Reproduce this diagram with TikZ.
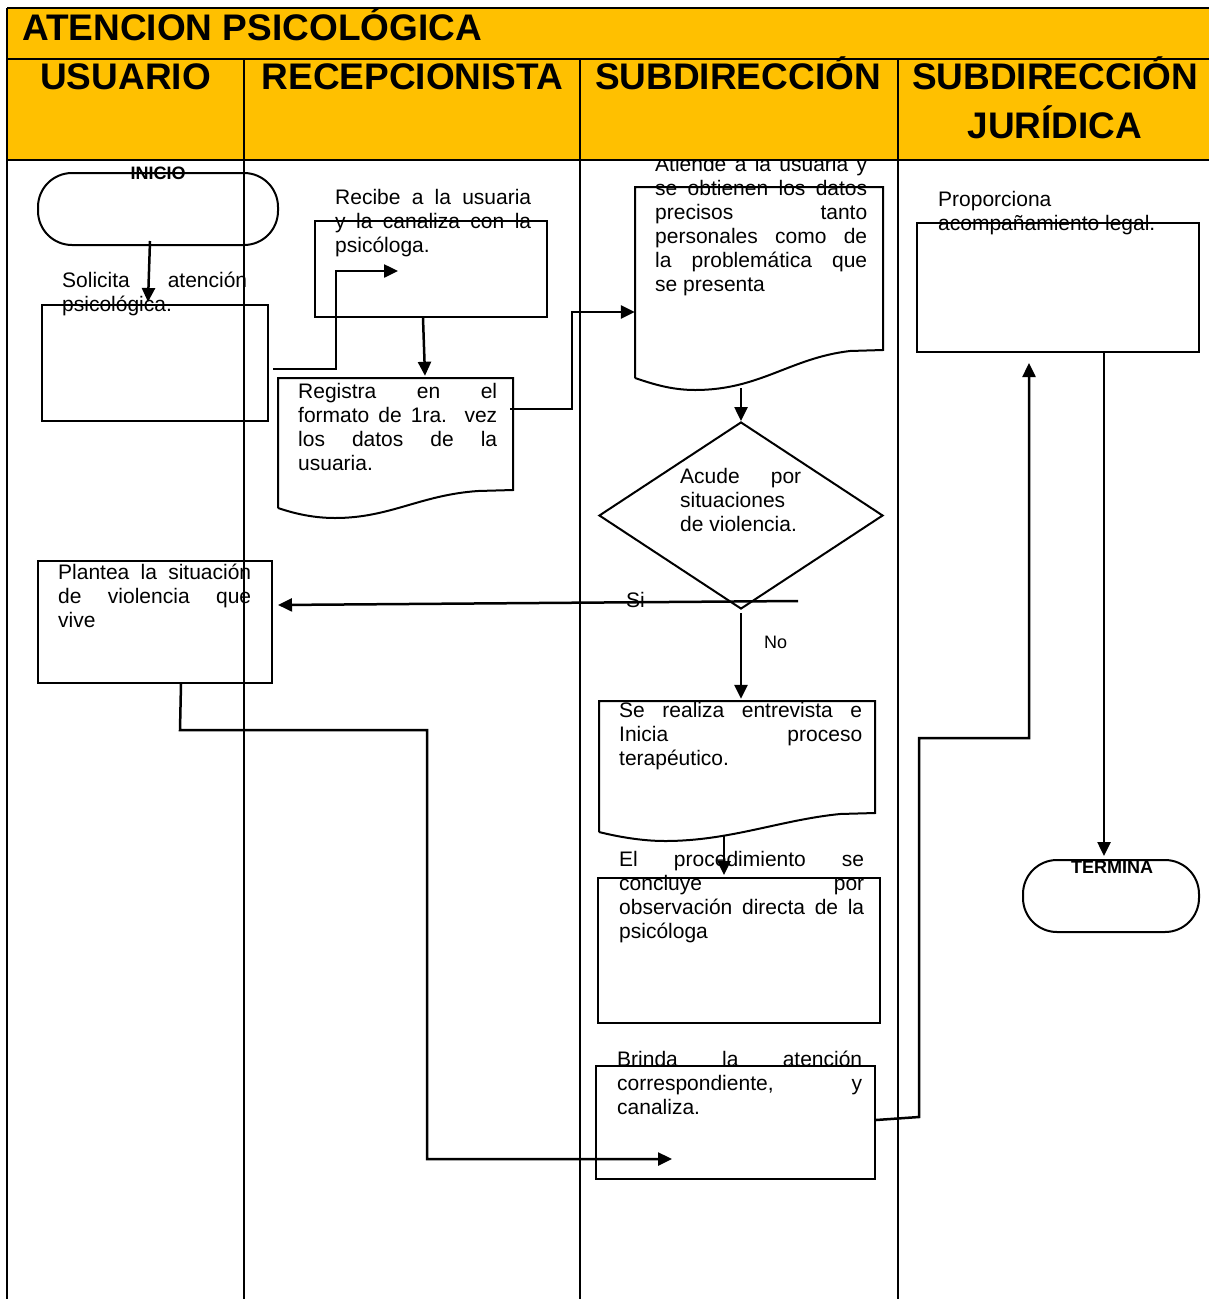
\documentclass[tikz,border=0pt]{standalone}
\usepackage{fontspec}
\setmainfont{Liberation Sans}
\usetikzlibrary{arrows.meta,shapes.geometric,calc}
\definecolor{hdr}{HTML}{FFC000}
\newcommand{\JL}[2]{\strut\makebox[#1][s]{#2}}
\begin{document}
\begin{tikzpicture}[x=1pt,y=-1pt,
  lane/.style={line width=1.3pt, black},
  box/.style={draw, line width=2pt, inner sep=0pt, rectangle},
  ghost/.style={inner sep=0pt, rectangle},
  term/.style={draw, line width=2pt, inner sep=0pt, rounded corners=34pt},
  arr/.style={line width=2.5pt, -{Triangle[length=14pt,width=13pt]}},
  doc/.style={line width=2pt},
  txt/.style={anchor=north west, inner sep=0pt, align=left, font=\fontsize{21}{24}\selectfont},
  hd/.style={inner sep=0pt, font=\fontsize{37}{40}\selectfont\bfseries},
  lbl/.style={inner sep=0pt, font=\fontsize{18}{20}\selectfont\bfseries}]
\useasboundingbox (0,0) rectangle (1209,1299);
\fill[white] (0,0) rectangle (1209,1299);
% lanes
\draw[lane] (7,8) -- (7,1299);
\draw[lane] (244,59) -- (244,1299);
\draw[lane] (580,59) -- (580,1299);
\draw[lane] (898,59) -- (898,1299);

% texts
\node[txt] (tsol) at (62,270.2) {\JL{185pt}{Solicita atención}\\\strut psicológica.};
\node[txt] (trec) at (335,187.2) {\JL{196pt}{Recibe a la usuaria}\\\JL{196pt}{y la canaliza con la}\\\strut psicóloga.};
\node[txt] (treg) at (298,381.2) {\JL{199pt}{Registra en el}\\\JL{199pt}{formato de 1ra. vez}\\\JL{199pt}{los datos de la}\\\strut usuaria.};
\node[txt] (tati) at (655,154.2) {\JL{212pt}{Atiende a la usuaria y}\\\JL{212pt}{se obtienen los datos}\\\JL{212pt}{precisos tanto}\\\JL{212pt}{personales como de}\\\JL{212pt}{la problemática que}\\\strut se presenta};
\node[txt] (tacu) at (680,466.2) {\JL{121pt}{Acude por}\\\strut situaciones\\\strut de violencia.};
\node[txt] (tpla) at (58,562.2) {\JL{193pt}{Plantea la situación}\\\JL{193pt}{de violencia que}\\\strut vive};
\node[txt] (tser) at (619,700.2) {\JL{243pt}{Se realiza entrevista e}\\\JL{243pt}{Inicia proceso}\\\strut terapéutico.};
\node[txt] (tpro) at (619,849.2) {\JL{245pt}{El procedimiento se}\\\JL{245pt}{concluye por}\\\JL{245pt}{observación directa de la}\\\strut psicóloga};
\node[txt] (tbri) at (617,1049.2) {\JL{245pt}{Brinda la atención}\\\JL{245pt}{correspondiente, y}\\\strut canaliza.};
\node[txt] (tprop) at (938,189.2) {\strut Proporciona\\\strut acompañamiento legal.};
\node[inner sep=0pt, anchor=base west, font=\fontsize{21}{24}\selectfont] (tsi) at (626,607) {Si};
\node[inner sep=0pt, anchor=base west, font=\fontsize{18}{20}\selectfont] (tno) at (764,648) {No};

% shapes
\node[term, minimum width=240pt, minimum height=72pt] (inicio) at (158,209) {};
\node[lbl, anchor=base] (tini) at (158,179) {INICIO};
\node[box, minimum width=226pt, minimum height=116pt] (solicita) at (155,363) {};
\node[box, minimum width=232pt, minimum height=96pt] (recibe) at (431,269) {};
\node[ghost, minimum width=235pt, minimum height=112pt] (registra) at (395.5,434) {};
\draw[doc] (278,508) -- (278,378) -- (513,378) -- (513,490) -- (478,491)
  .. controls (420,495) and (390,518) .. (335,518)
  .. controls (310,518) and (290,512) .. (278,508);
\node[ghost, minimum width=248pt, minimum height=163pt] (atiende) at (759,268.5) {};
\draw[doc] (635,378) -- (635,187) -- (883,187) -- (883,350) -- (850,351)
  .. controls (790,358) and (760,390) .. (695,390)
  .. controls (670,390) and (650,383) .. (635,378);
\node[draw, diamond, line width=2pt, inner sep=0pt, minimum width=284pt, minimum height=187pt] (dia) at (741,515.5) {};
\node[box, minimum width=234pt, minimum height=122pt] (plantea) at (155,622) {};
\node[ghost, minimum width=276pt, minimum height=112pt] (serealiza) at (737,757) {};
\draw[doc] (599,832) -- (599,701) -- (875,701) -- (875,813) -- (840,814)
  .. controls (780,820) and (730,841) .. (665,841)
  .. controls (640,841) and (615,836) .. (599,832);
\node[box, minimum width=282pt, minimum height=145pt] (proc) at (739,950.5) {};
\node[box, minimum width=279pt, minimum height=113pt] (brinda) at (735.5,1122.5) {};
\node[box, minimum width=282pt, minimum height=129pt] (prop) at (1058,287.5) {};
\node[term, minimum width=176pt, minimum height=72pt] (termina) at (1111,896) {};
\node[lbl, anchor=base] (tter) at (1112,873) {TERMINA};

% connectors
\draw[arr] ([shift={(-8pt,5pt)}]inicio.south) -- ([shift={(-7pt,2pt)}]solicita.north);
\draw[arr] ([shift={(4pt,-6pt)}]solicita.east) -- ++(63pt,0pt) |- ([shift={(-33pt,-2pt)}]recibe.center);
\draw[arr] ([xshift=-8pt]recibe.south) -- ([shift={(29.5pt,2pt)}]registra.north);
\draw[arr] ([shift={(-3pt,25pt)}]registra.east) -- ++(62pt,0pt) |- ([yshift=-43.5pt]atiende.west);
\draw[arr] ([shift={(-18pt,-38pt)}]atiende.south) -- (dia.north);
\coordinate (sistart) at (798,601);
\draw[arr] (sistart) -- ([shift={(5pt,17pt)}]plantea.east);
\draw[arr] ([yshift=-3pt]dia.south) -- ([shift={(4pt,2pt)}]serealiza.north);
\draw[arr] ([shift={(-13pt,-23pt)}]serealiza.south) -- ([shift={(-15pt,2pt)}]proc.north);
\draw[arr] ([xshift=26pt]plantea.south) -- ++(-1pt,-46pt) -- ++(247pt,0pt) |- ([shift={(-63.5pt,-36.5pt)}]brinda.center);
\draw[arr] ([yshift=2.5pt]brinda.east) -- ++(43pt,3pt) -- ++(0pt,379pt) -| ([shift={(-29pt,-10pt)}]prop.south);
\draw[arr] ([xshift=46pt]prop.south) -- ([shift={(-7pt,3pt)}]termina.north);

% header
\fill[hdr] (7,8) rectangle (1209,160);
\draw[line width=1.2pt] (7,8) -- (1209,8);
\draw[line width=1.2pt] (7,59) -- (1209,59);
\draw[line width=2pt] (7,160) -- (1209,160);
\draw[lane] (7,8) -- (7,160);
\draw[lane] (244,59) -- (244,160);
\draw[lane] (580,59) -- (580,160);
\draw[lane] (898,59) -- (898,160);
\node[hd, anchor=base west] (title) at (22,40) {ATENCION PSICOLÓGICA};
\node[hd, anchor=base] (h1) at (125.5,89) {USUARIO};
\node[hd, anchor=base] (h2) at (412.5,89) {RECEPCIONISTA};
\node[hd, anchor=base] (h3) at (738,89) {SUBDIRECCIÓN};
\node[hd, anchor=base] (h4) at (1055,89) {SUBDIRECCIÓN};
\node[hd, anchor=base] (h5) at (1055,138) {JURÍDICA};
\end{tikzpicture}
\end{document}
